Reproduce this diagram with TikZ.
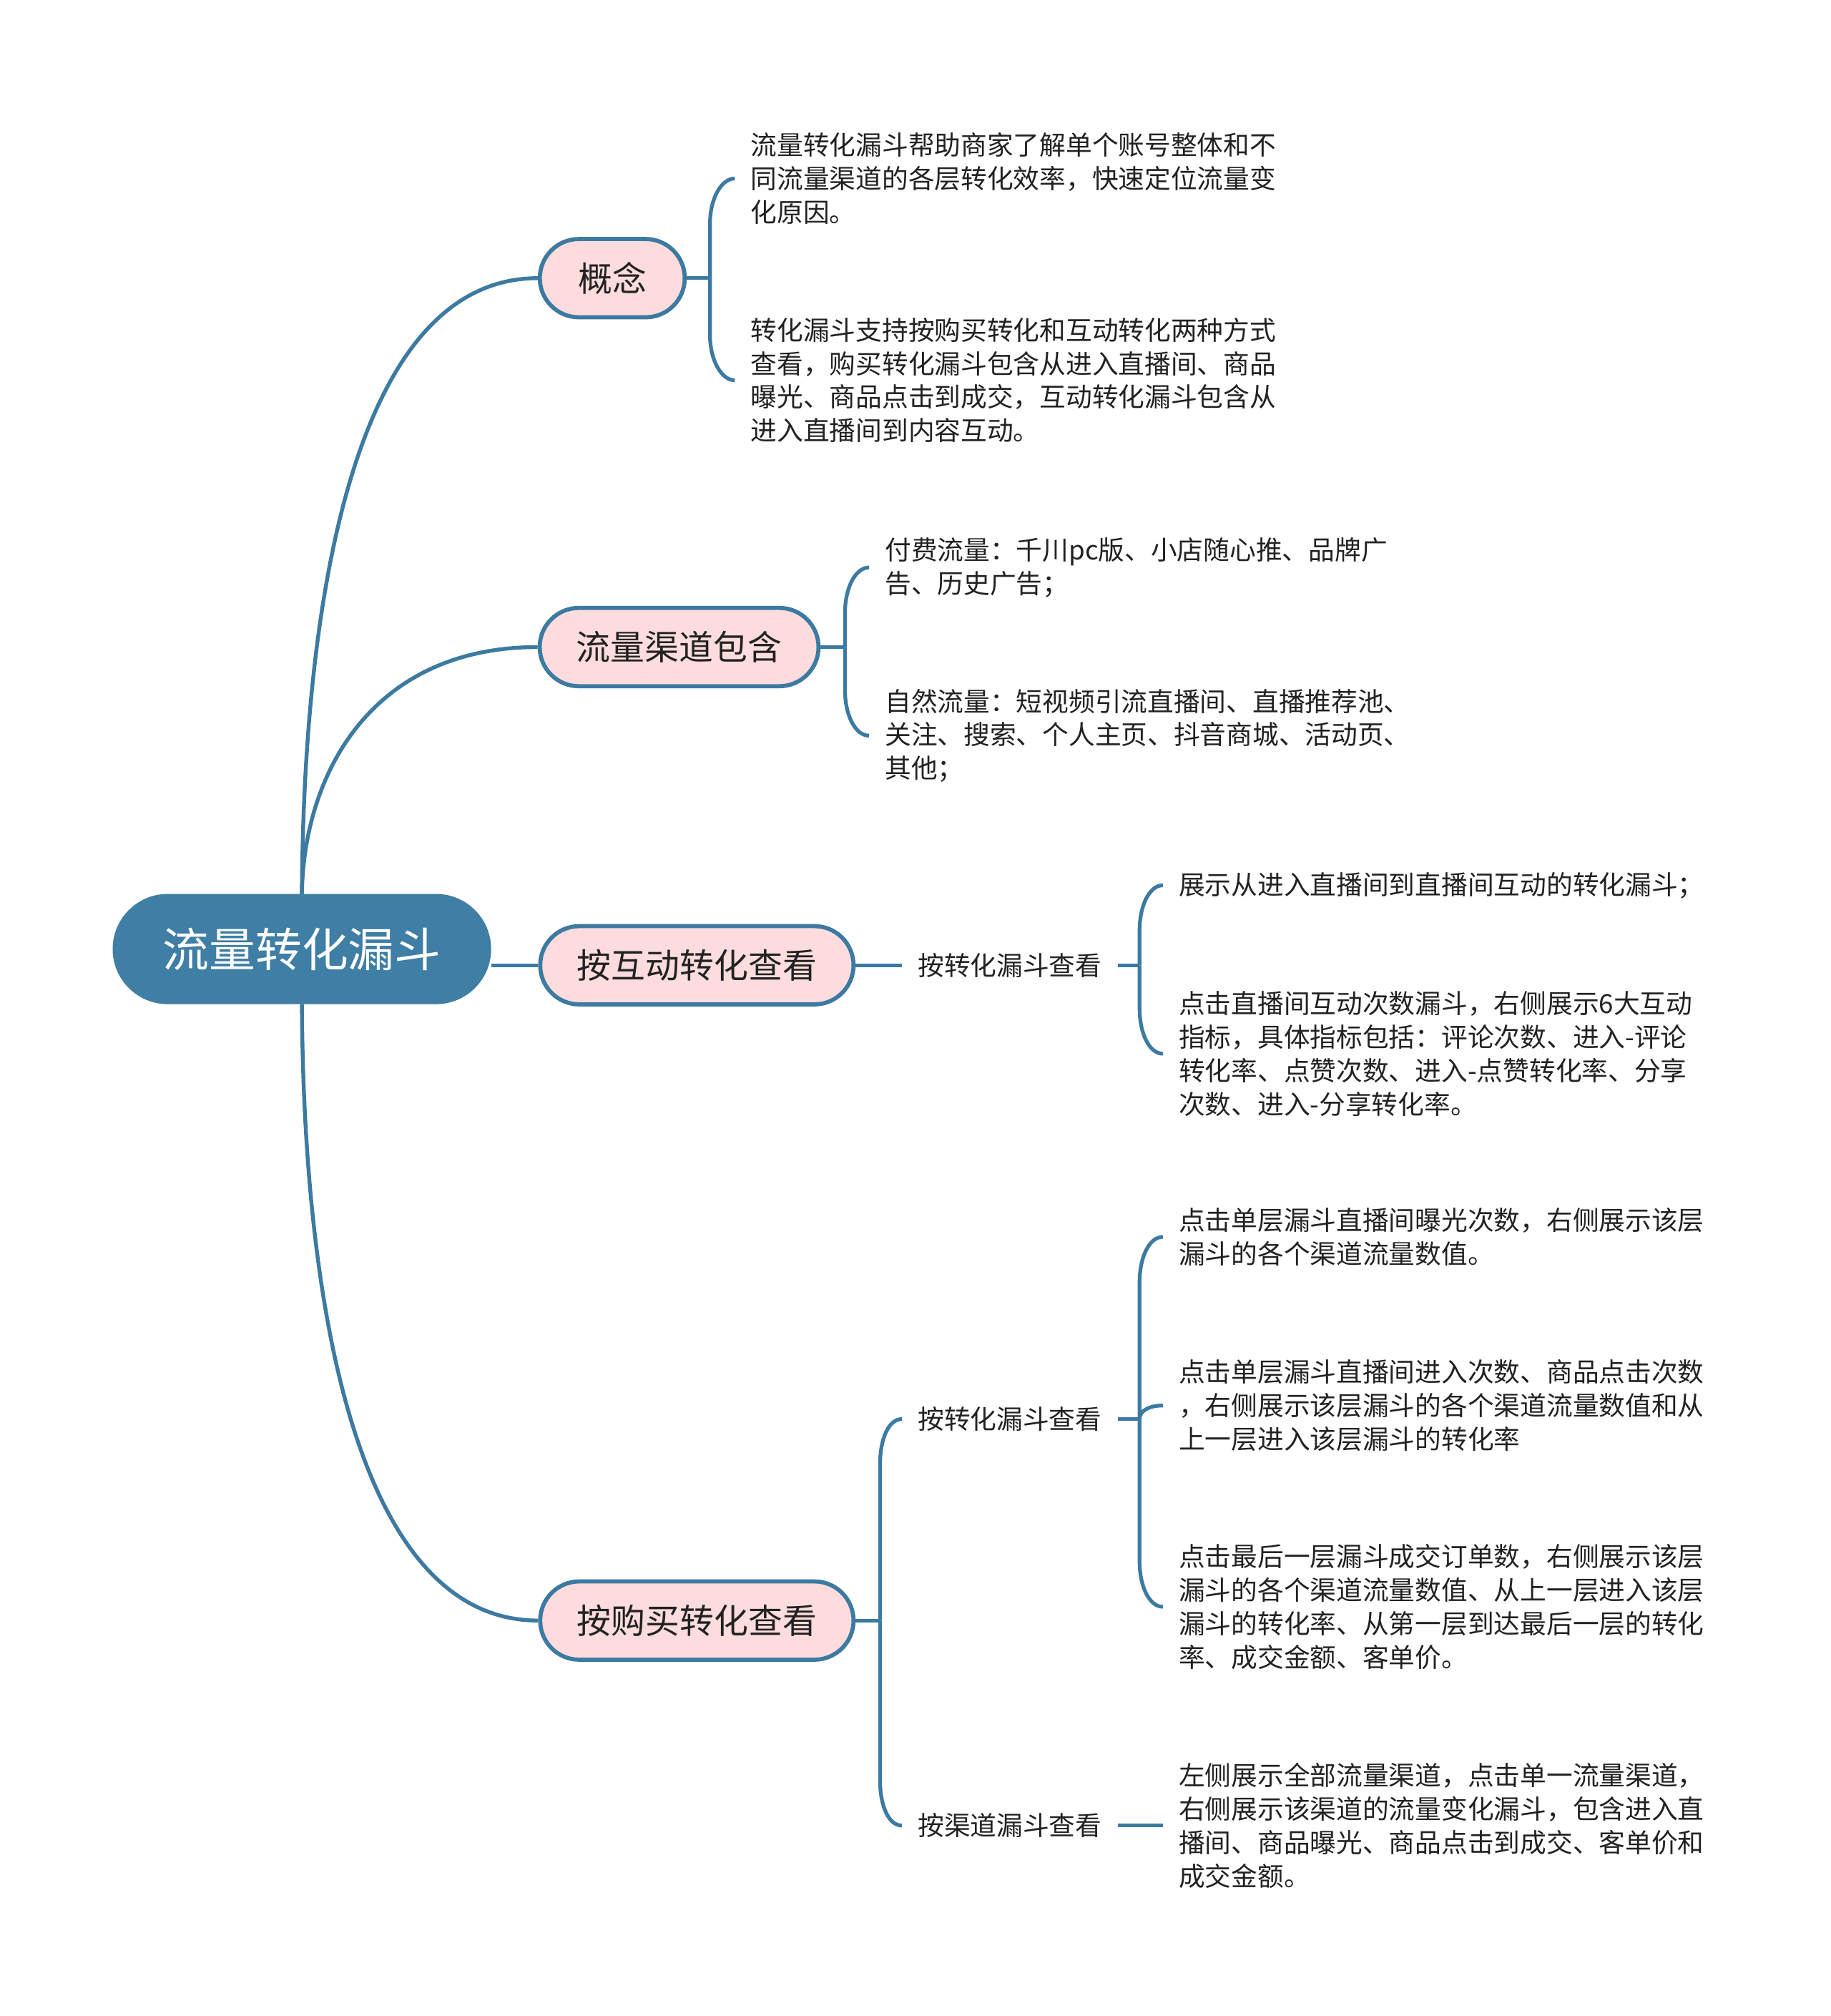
\documentclass[tikz,border=0pt]{standalone}
\usepackage{fontspec}
\setmainfont{Noto Sans CJK SC}
\usetikzlibrary{shapes.misc,calc,backgrounds}
\definecolor{lineblue}{HTML}{3D7AA2}
\definecolor{rootblue}{HTML}{3F7EA5}
\definecolor{pinkfill}{HTML}{FCDCDC}
\definecolor{txtc}{HTML}{222222}
\newcommand{\brlink}[3]{\draw[subline] (#1) -- ($(#1|-#2)+(0,#3*35)$) .. controls ($(#1|-#2)+(0,#3*15.7)$) and ($(#2)+(-10.5,0)$) .. (#2);}
\begin{document}
\begin{tikzpicture}[x=0.5pt,y=-0.5pt,
  rootnode/.style={rounded rectangle, fill=rootblue, draw=rootblue, line width=0.5pt, text=white,
    font=\fontsize{18}{22}\selectfont, minimum width=146.5pt, minimum height=42.3pt, inner sep=0pt},
  topicnode/.style={rounded rectangle, fill=pinkfill, draw=lineblue, line width=1.6pt, text=txtc,
    font=\fontsize{13.3}{16}\selectfont, minimum height=30.4pt, inner sep=0pt},
  leafnode/.style={anchor=west, align=left, text=txtc, font=\fontsize{10.2}{13}\selectfont,
    inner xsep=6pt, inner ysep=0pt},
  labelnode/.style={text=txtc, font=\fontsize{10.2}{13}\selectfont, inner xsep=6pt, inner ysep=2pt},
  mainline/.style={draw=lineblue, line width=1.5pt},
  subline/.style={draw=lineblue, line width=1.45pt},
]
\useasboundingbox (0,0) rectangle (1422.2,1565.6);

% root and topics
\node[rootnode] (root) at (234.5,737) {流量转化漏斗};
\node[topicnode, minimum width=56.3pt] (n1) at (475.6,216) {概念};
\node[topicnode, minimum width=108.3pt] (n2) at (527.5,502.5) {流量渠道包含};
\node[topicnode, minimum width=121.7pt] (n3) at (541.3,749.6) {按互动转化查看};
\node[topicnode, minimum width=121.7pt] (n4) at (541.3,1258.5) {按购买转化查看};

% leaves of 概念
\node[leafnode] (a1) at (570.8,138.6) {流量转化漏斗帮助商家了解单个账号整体和不\\同流量渠道的各层转化效率，快速定位流量变\\化原因。};
\node[leafnode] (a2) at (570.8,295.3) {转化漏斗支持按购买转化和互动转化两种方式\\查看，购买转化漏斗包含从进入直播间、商品\\曝光、商品点击到成交，互动转化漏斗包含从\\进入直播间到内容互动。};

% leaves of 流量渠道包含
\node[leafnode] (b1) at (675,440.7) {付费流量：千川pc版、小店随心推、品牌广\\告、历史广告；};
\node[leafnode] (b2) at (675,571.3) {自然流量：短视频引流直播间、直播推荐池、\\关注、搜索、个人主页、抖音商城、活动页、\\其他；};

% 按互动转化查看
\node[labelnode] (l1) at (784.4,749.6) {按转化漏斗查看};
\node[leafnode] (c1) at (903.3,687.5) {展示从进入直播间到直播间互动的转化漏斗；};
\node[leafnode] (c2) at (903.3,818.3) {点击直播间互动次数漏斗，右侧展示6大互动\\指标，具体指标包括：评论次数、进入-评论\\转化率、点赞次数、进入-点赞转化率、分享\\次数、进入-分享转化率。};

% 按购买转化查看
\node[labelnode] (l2) at (784.4,1102) {按转化漏斗查看};
\node[labelnode] (l3) at (784.4,1417.7) {按渠道漏斗查看};
\node[leafnode] (d1) at (903.3,960.5) {点击单层漏斗直播间曝光次数，右侧展示该层\\漏斗的各个渠道流量数值。};
\node[leafnode] (d2) at (903.3,1091.5) {点击单层漏斗直播间进入次数、商品点击次数\\，右侧展示该层漏斗的各个渠道流量数值和从\\上一层进入该层漏斗的转化率};
\node[leafnode] (d3) at (903.3,1247.8) {点击最后一层漏斗成交订单数，右侧展示该层\\漏斗的各个渠道流量数值、从上一层进入该层\\漏斗的转化率、从第一层到达最后一层的转化\\率、成交金额、客单价。};
\node[leafnode] (d4) at (903.3,1417.7) {左侧展示全部流量渠道，点击单一流量渠道，\\右侧展示该渠道的流量变化漏斗，包含进入直\\播间、商品曝光、商品点击到成交、客单价和\\成交金额。};

% junctions
\coordinate (j1) at ($(n1.east)+(18,0)$);
\coordinate (j2) at ($(n2.east)+(19,0)$);
\coordinate (j3) at ($(l1.east)+(17,0)$);
\coordinate (j4) at ($(n4.east)+(19,0)$);
\coordinate (j5) at ($(l2.east)+(17,0)$);

\begin{scope}[on background layer]
\fill[white] (0,0) rectangle (1422.2,1565.6);
\draw[mainline] (root.north) .. controls +(1.5,-245) and +(-137.6,0) .. (n1.west);
\draw[mainline] (root.north) .. controls +(1.5,-95) and +(-127.6,0) .. (n2.west);
\draw[mainline] (root.east |- n3.west) -- (n3.west);
\draw[mainline] (root.south) .. controls +(1.5,245) and +(-137.6,0) .. (n4.west);

\draw[subline] (n1.east) -- (j1);
\brlink{j1}{a1.west}{1}
\brlink{j1}{a2.west}{-1}

\draw[subline] (n2.east) -- (j2);
\brlink{j2}{b1.west}{1}
\brlink{j2}{b2.west}{-1}

\draw[subline] (n3.east) -- (l1.west);
\draw[subline] (l1.east) -- (j3);
\brlink{j3}{c1.west}{1}
\brlink{j3}{c2.west}{-1}

\draw[subline] (n4.east) -- (j4);
\brlink{j4}{l2.west}{1}
\brlink{j4}{l3.west}{-1}

\draw[subline] (l2.east) -- (j5);
\brlink{j5}{d1.west}{1}
\draw[subline] (j5) .. controls +(0,-6.6) and +(-10.5,0) .. (d2.west);
\brlink{j5}{d3.west}{-1}

\draw[subline] (l3.east) -- (d4.west);
\end{scope}
\end{tikzpicture}
\end{document}
